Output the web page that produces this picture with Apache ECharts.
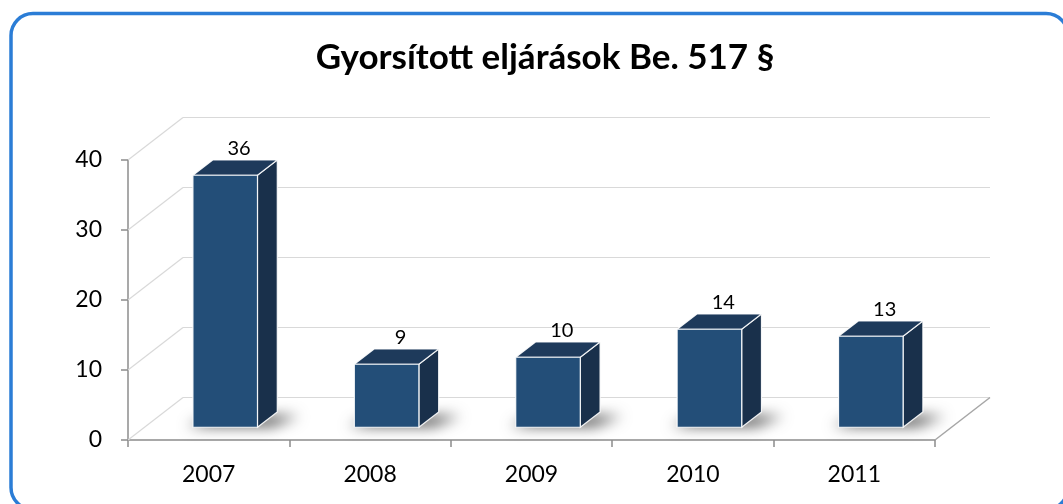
<!DOCTYPE html>
<html>
<head>
<meta charset="UTF-8">
<title>Gyorsított eljárások</title>
<script src="https://cdn.jsdelivr.net/npm/echarts@6/dist/echarts.min.js"></script>
<style>
  html, body { margin: 0; padding: 0; background: #fff; }
  #main { width: 1063px; height: 504px; }
</style>
</head>
<body>
<div id="main"></div>
<script>
    // adatok
    var years = ['2007', '2008', '2009', '2010', '2011'];
    var counts = [36, 9, 10, 14, 13];
    var yTicks = [0, 10, 20, 30, 40];

    // 3D hatas: a hatso fal eltolasa (px) es az oszlopok melysege
    var DEPTH = [55, -42.5];
    var F0 = 0.3, F1 = 0.66;
    var FONT = 'Lato, "Open Sans", sans-serif';
    var FAR = 3000; // az arnyek alakja kepen kivul, csak az elmosott arnyeka latszik

    var myChart = echarts.init(document.getElementById('main'));

    function renderBar(params, api) {
        var i = api.value(0), v = api.value(1);
        var base = api.coord([i, 0]);
        var top = api.coord([i, v]);
        var bw = api.size([1, 0])[0] * 0.4;
        var ox = DEPTH[0] * F0, oy = DEPTH[1] * F0;
        var dx = DEPTH[0] * (F1 - F0), dy = DEPTH[1] * (F1 - F0);
        var x0 = base[0] - bw / 2 + ox, x1 = x0 + bw;
        var yb = base[1] + oy, yt = top[1] + oy;
        var edge = { stroke: 'rgba(255,255,255,0.9)', lineWidth: 1.2 };
        return {
            type: 'group',
            children: [{
                type: 'polygon',
                shape: { points: [
                    [x0 - 6 - FAR, yb - 1], [x1 + 14 - FAR, yb - 1],
                    [x1 + dx + 22 - FAR, yb + dy + 4], [x0 + dx - FAR, yb + dy + 4]
                ] },
                style: { fill: '#000', shadowBlur: 14, shadowColor: 'rgba(0,0,0,0.7)', shadowOffsetX: FAR, shadowOffsetY: 0 }
            }, {
                type: 'polygon',
                shape: { points: [[x1, yt], [x1 + dx, yt + dy], [x1 + dx, yb + dy], [x1, yb]] },
                style: Object.assign({ fill: '#19304b' }, edge)
            }, {
                type: 'polygon',
                shape: { points: [[x0, yt], [x1, yt], [x1 + dx, yt + dy], [x0 + dx, yt + dy]] },
                style: Object.assign({ fill: '#1e3a5b' }, edge)
            }, {
                type: 'rect',
                shape: { x: x0, y: yt, width: bw, height: yb - yt },
                style: Object.assign({ fill: '#234e78' }, edge)
            }, {
                type: 'text',
                style: {
                    text: String(v), x: (x0 + x1) / 2 + dx * 0.7, y: yt + dy - 11,
                    align: 'center', verticalAlign: 'middle',
                    fontSize: 20, fontFamily: FONT, fill: '#000'
                }
            }]
        };
    }

    function renderWall(params, api) {
        var cs = params.coordSys;
        var p = api.coord([0, api.value(0)]);
        var x = cs.x;
        return {
            type: 'line',
            shape: { x1: x, y1: p[1], x2: x + DEPTH[0], y2: p[1] + DEPTH[1] },
            style: { stroke: '#d9d9d9', lineWidth: 1.2 }
        };
    }

    function renderFloorEdge(params, api) {
        var cs = params.coordSys;
        var p = api.coord([0, api.value(0)]);
        var x = cs.x + cs.width;
        return {
            type: 'line',
            shape: { x1: x, y1: p[1], x2: x + DEPTH[0], y2: p[1] + DEPTH[1] },
            style: { stroke: '#a6a6a6', lineWidth: 1.5 }
        };
    }

    var option = {
        backgroundColor: '#fff',
        animation: false,
        graphic: [{
            type: 'rect',
            shape: { x: 11, y: 13.5, width: 1057, height: 496, r: 22 },
            style: { fill: 'none', stroke: '#2b7dd6', lineWidth: 3.5 },
            z: 100
        }, {
            type: 'text',
            style: {
                text: 'Gyorsított eljárások Be. 517 §',
                x: 545, y: 58, align: 'center', verticalAlign: 'middle',
                fontSize: 35, fontWeight: 'bold', fontFamily: FONT, fill: '#000'
            }
        }],
        grid: [
            { left: 128, right: 128, top: 160, bottom: 64 },
            { left: 128 + DEPTH[0], right: 128 - DEPTH[0], top: 160 + DEPTH[1], bottom: 64 - DEPTH[1] }
        ],
        xAxis: [{
            type: 'category', gridIndex: 0, data: years,
            axisLine: { lineStyle: { color: '#8c8c8c', width: 1.5 } },
            axisTick: { show: true, length: 7, lineStyle: { color: '#8c8c8c', width: 1.5 } },
            axisLabel: { margin: 23, fontSize: 23, fontFamily: FONT, color: '#000' }
        }, {
            type: 'category', gridIndex: 1, data: years, show: false
        }],
        yAxis: [{
            type: 'value', gridIndex: 0, min: 0, max: 40, interval: 10,
            axisLine: { show: true, lineStyle: { color: '#8c8c8c', width: 1.5 } },
            axisTick: { show: true, length: 7, lineStyle: { color: '#8c8c8c', width: 1.5 } },
            axisLabel: { margin: 26, fontSize: 23, fontFamily: FONT, color: '#000' },
            splitLine: { show: false }
        }, {
            type: 'value', gridIndex: 1, min: 0, max: 40, interval: 10,
            axisLine: { show: false }, axisTick: { show: false }, axisLabel: { show: false },
            splitLine: { show: true, lineStyle: { color: '#d9d9d9', width: 1.2 } }
        }],
        series: [{
            type: 'custom', name: 'wall', xAxisIndex: 0, yAxisIndex: 0,
            renderItem: renderWall, data: yTicks.map(function (t) { return [t]; }),
            z: 1, silent: true
        }, {
            type: 'custom', name: 'floor', xAxisIndex: 0, yAxisIndex: 0,
            renderItem: renderFloorEdge, data: [[0]], z: 1, silent: true
        }, {
            type: 'custom', name: 'Gyorsított eljárások', xAxisIndex: 0, yAxisIndex: 0,
            renderItem: renderBar,
            data: counts.map(function (c, i) { return [i, c]; }),
            z: 5
        }]
    };

    myChart.setOption(option);
</script>
</body>
</html>
